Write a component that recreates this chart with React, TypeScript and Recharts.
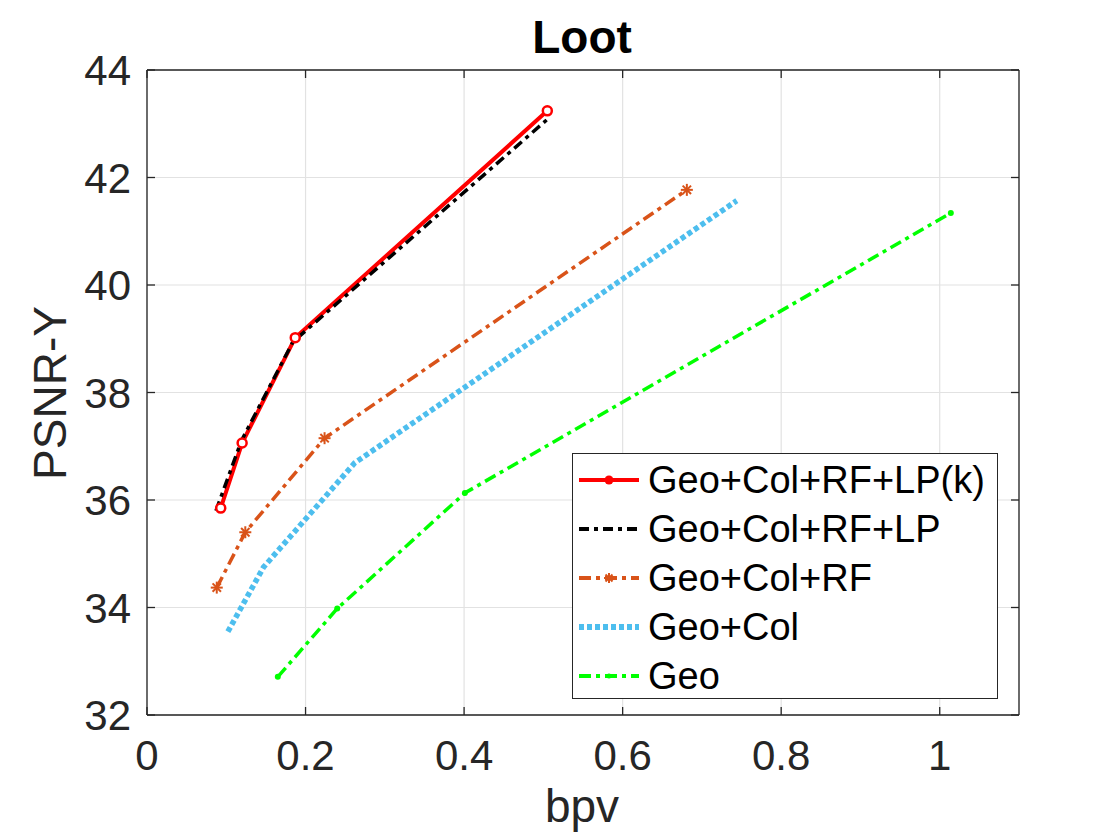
import React from 'react';
import { LineChart, Line, XAxis, YAxis, CartesianGrid } from 'recharts';

// axis ticks
const xTicks = [0, 0.2, 0.4, 0.6, 0.8, 1];
const yTicks = [32, 34, 36, 38, 40, 42, 44];

const seriesNames = ['Geo+Col+RF+LP(k)', 'Geo+Col+RF+LP', 'Geo+Col+RF', 'Geo+Col', 'Geo'];

// bpv / PSNR-Y per method
const bpvLPk = [0.093, 0.12, 0.187, 0.505];
const psnrLPk = [35.85, 37.06, 39.02, 43.24];

const bpvLP = [0.087, 0.119, 0.184, 0.508];
const psnrLP = [35.8, 37.1, 38.94, 43.12];

const bpvRF = [0.088, 0.124, 0.224, 0.681];
const psnrRF = [34.37, 35.4, 37.15, 41.77];

const bpvCol = [0.102, 0.147, 0.262, 0.744];
const psnrCol = [33.55, 34.75, 36.69, 41.57];

const bpvGeo = [0.165, 0.24, 0.401, 1.014];
const psnrGeo = [32.71, 33.98, 36.13, 41.34];

const toPoints = (xs: number[], ys: number[]) => xs.map((x, i) => ({ bpv: x, psnr: ys[i] }));

const AXIS = '#262626';
const FONT = '"Liberation Sans", Arial, Helvetica, sans-serif';
const TICK_LEN = 8;

const BottomTick = ({ x, y, payload }: any) => (
  <g>
    <line x1={x} y1={y} x2={x} y2={y - TICK_LEN} stroke={AXIS} strokeWidth={1.3} />
    <text x={x} y={y + 55} textAnchor="middle" fontSize={42} fill={AXIS} fontFamily={FONT}>
      {payload.value}
    </text>
  </g>
);

const LeftTick = ({ x, y, payload }: any) => (
  <g>
    <line x1={x} y1={y} x2={x + TICK_LEN} y2={y} stroke={AXIS} strokeWidth={1.3} />
    <text x={x - 16} y={y + 15} textAnchor="end" fontSize={42} fill={AXIS} fontFamily={FONT}>
      {payload.value}
    </text>
  </g>
);

const TopTick = ({ x, y }: any) => (
  <line x1={x} y1={y} x2={x} y2={y + TICK_LEN} stroke={AXIS} strokeWidth={1.3} />
);

const RightTick = ({ x, y }: any) => (
  <line x1={x} y1={y} x2={x - TICK_LEN} y2={y} stroke={AXIS} strokeWidth={1.3} />
);

const CircleDot = ({ cx, cy, index }: any) => (
  <circle key={index} cx={cx} cy={cy} r={4.5} fill="#fff" stroke="#ff0000" strokeWidth={2.5} />
);

const StarDot = ({ cx, cy, index }: any) => {
  const s = 6;
  const d = s * 0.7;
  return (
    <g key={index} stroke="#D95319" strokeWidth={2}>
      <line x1={cx - s} y1={cy} x2={cx + s} y2={cy} />
      <line x1={cx} y1={cy - s} x2={cx} y2={cy + s} />
      <line x1={cx - d} y1={cy - d} x2={cx + d} y2={cy + d} />
      <line x1={cx - d} y1={cy + d} x2={cx + d} y2={cy - d} />
    </g>
  );
};

const PointDot = ({ cx, cy, index }: any) => (
  <circle key={index} cx={cx} cy={cy} r={3} fill="#00ff00" />
);

const legendRows = [
  { color: '#ff0000', dash: undefined, width: 4, marker: 'dot' },
  { color: '#000000', dash: '10 5 4 5', width: 4, marker: '' },
  { color: '#D95319', dash: '12 5 4 5', width: 4, marker: 'star' },
  { color: '#4DBEEE', dash: '5 3', width: 6, marker: '' },
  { color: '#00ff00', dash: '12 5 4 5', width: 4, marker: 'point' },
];

const Legend = () => (
  <div
    style={{
      position: 'absolute',
      left: 572,
      top: 453,
      width: 426,
      height: 246,
      border: `1.3px solid ${AXIS}`,
      background: '#fff',
      boxSizing: 'border-box',
    }}
  >
    {legendRows.map((row, i) => (
      <div
        key={i}
        style={{
          position: 'absolute',
          left: 0,
          top: 26 + i * 49 - 20,
          height: 40,
          display: 'flex',
          alignItems: 'center',
        }}
      >
        <svg width={75} height={40} style={{ display: 'block' }}>
          <line
            x1={6}
            y1={20}
            x2={66}
            y2={20}
            stroke={row.color}
            strokeWidth={row.width}
            strokeDasharray={row.dash}
          />
          {row.marker === 'dot' && <circle cx={36} cy={20} r={4.5} fill={row.color} />}
          {row.marker === 'star' && (
            <g stroke={row.color} strokeWidth={2}>
              <line x1={31} y1={20} x2={41} y2={20} />
              <line x1={36} y1={15} x2={36} y2={25} />
              <line x1={32.5} y1={16.5} x2={39.5} y2={23.5} />
              <line x1={32.5} y1={23.5} x2={39.5} y2={16.5} />
            </g>
          )}
          {row.marker === 'point' && <circle cx={36} cy={20} r={2.5} fill={row.color} />}
        </svg>
        <span style={{ fontSize: 38, lineHeight: 1, color: '#000', whiteSpace: 'nowrap' }}>
          {seriesNames[i]}
        </span>
      </div>
    ))}
  </div>
);

export default function App() {
  return (
    <div
      style={{
        position: 'absolute',
        left: 0,
        top: 0,
        width: 1120,
        height: 840,
        background: '#fff',
        fontFamily: FONT,
      }}
    >
      <LineChart width={1120} height={840} margin={{ top: 0, right: 0, bottom: 0, left: 0 }}>
        <CartesianGrid stroke="#e2e2e2" strokeWidth={1.2} />
        <XAxis
          dataKey="bpv"
          type="number"
          domain={[0, 1.1]}
          ticks={xTicks}
          interval={0}
          allowDataOverflow
          height={125}
          tickSize={0}
          tickMargin={0}
          tickLine={false}
          axisLine={{ stroke: AXIS, strokeWidth: 1.3 }}
          tick={BottomTick}
        />
        <XAxis
          xAxisId="top"
          orientation="top"
          dataKey="bpv"
          type="number"
          domain={[0, 1.1]}
          ticks={xTicks}
          interval={0}
          allowDataOverflow
          height={70}
          tickSize={0}
          tickMargin={0}
          tickLine={false}
          axisLine={{ stroke: AXIS, strokeWidth: 1.3 }}
          tick={TopTick}
        />
        <YAxis
          type="number"
          domain={[32, 44]}
          ticks={yTicks}
          interval={0}
          allowDataOverflow
          width={147}
          tickSize={0}
          tickMargin={0}
          tickLine={false}
          axisLine={{ stroke: AXIS, strokeWidth: 1.3 }}
          tick={LeftTick}
        />
        <YAxis
          yAxisId="right"
          orientation="right"
          type="number"
          domain={[32, 44]}
          ticks={yTicks}
          interval={0}
          allowDataOverflow
          width={101}
          tickSize={0}
          tickMargin={0}
          tickLine={false}
          axisLine={{ stroke: AXIS, strokeWidth: 1.3 }}
          tick={RightTick}
        />
        <Line
          data={toPoints(bpvLPk, psnrLPk)}
          dataKey="psnr"
          type="linear"
          stroke="#ff0000"
          strokeWidth={4}
          dot={CircleDot}
          activeDot={false}
          isAnimationActive={false}
        />
        <Line
          data={toPoints(bpvLP, psnrLP)}
          dataKey="psnr"
          type="linear"
          stroke="#000000"
          strokeWidth={3.5}
          strokeDasharray="10 5 4 5"
          dot={false}
          activeDot={false}
          isAnimationActive={false}
        />
        <Line
          data={toPoints(bpvRF, psnrRF)}
          dataKey="psnr"
          type="linear"
          stroke="#D95319"
          strokeWidth={3.5}
          strokeDasharray="12 5 4 5"
          dot={StarDot}
          activeDot={false}
          isAnimationActive={false}
        />
        <Line
          data={toPoints(bpvCol, psnrCol)}
          dataKey="psnr"
          type="linear"
          stroke="#4DBEEE"
          strokeWidth={5.5}
          strokeDasharray="5 3"
          dot={false}
          activeDot={false}
          isAnimationActive={false}
        />
        <Line
          data={toPoints(bpvGeo, psnrGeo)}
          dataKey="psnr"
          type="linear"
          stroke="#00ff00"
          strokeWidth={3.5}
          strokeDasharray="12 5 4 5"
          dot={PointDot}
          activeDot={false}
          isAnimationActive={false}
        />
      </LineChart>

      <div
        style={{
          position: 'absolute',
          left: 582,
          top: 37,
          transform: 'translate(-50%, -50%)',
          fontSize: 46,
          fontWeight: 'bold',
          lineHeight: 1,
          color: '#000',
          whiteSpace: 'nowrap',
        }}
      >
        Loot
      </div>
      <div
        style={{
          position: 'absolute',
          left: 50,
          top: 393,
          transform: 'translate(-50%, -50%) rotate(-90deg)',
          fontSize: 46,
          lineHeight: 1,
          color: AXIS,
          whiteSpace: 'nowrap',
        }}
      >
        PSNR-Y
      </div>
      <div
        style={{
          position: 'absolute',
          left: 582,
          top: 806,
          transform: 'translate(-50%, -50%)',
          fontSize: 46,
          lineHeight: 1,
          color: AXIS,
          whiteSpace: 'nowrap',
        }}
      >
        bpv
      </div>
      <Legend />
    </div>
  );
}
